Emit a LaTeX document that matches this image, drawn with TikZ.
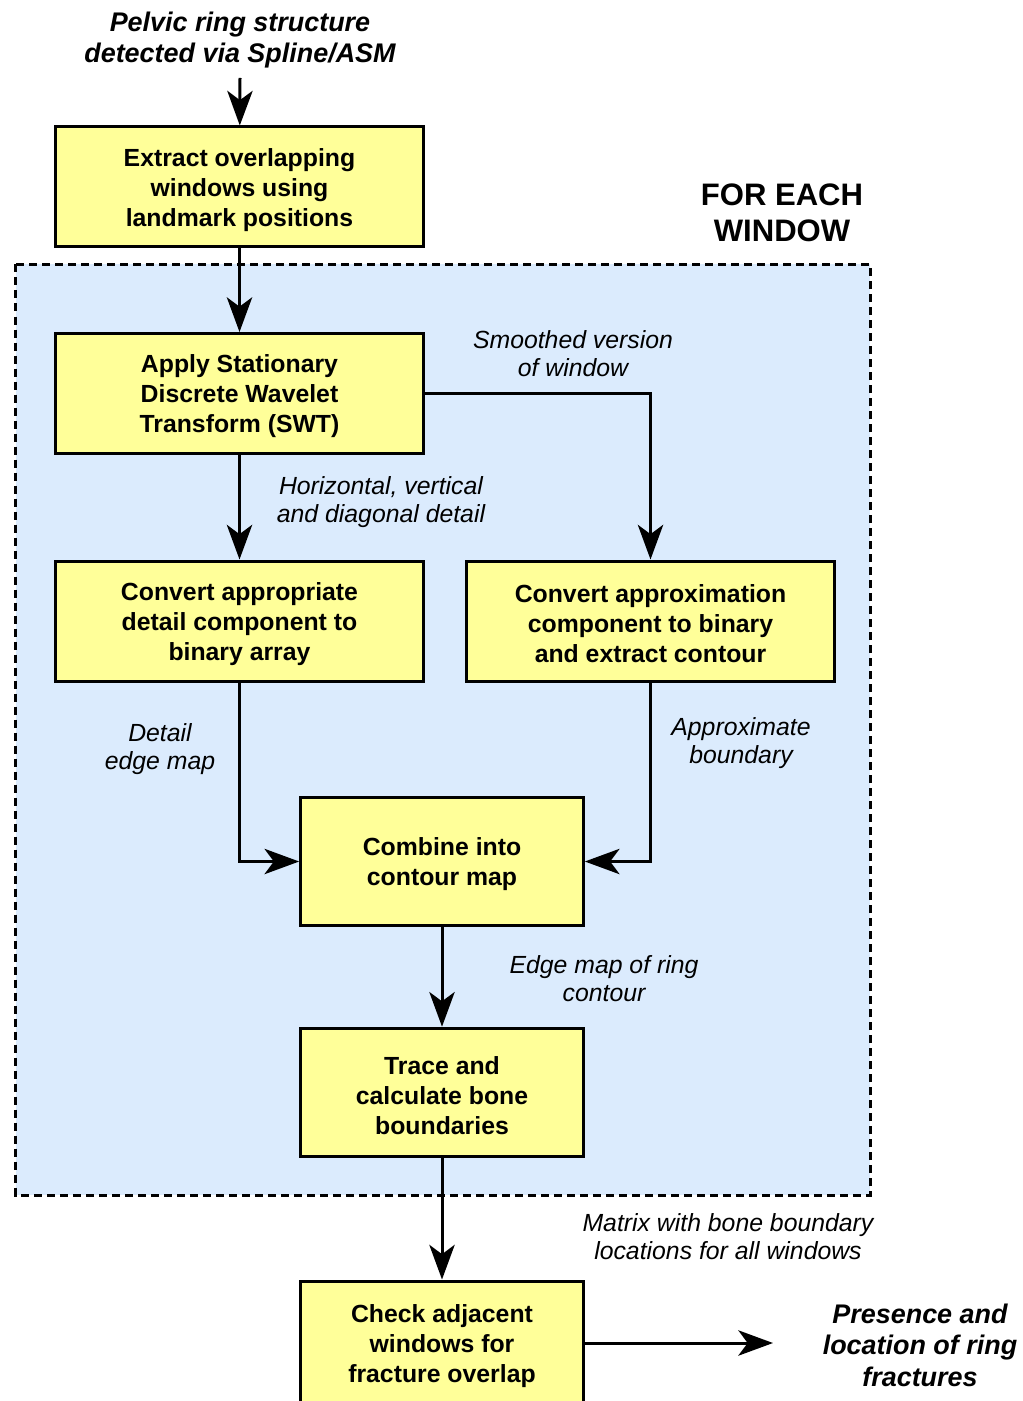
\documentclass[tikz,border=0pt]{standalone}
\usepackage{fontspec}
\setmainfont{Liberation Sans}
\usetikzlibrary{arrows.meta}
\definecolor{boxyellow}{HTML}{FFFF99}
\definecolor{loopblue}{HTML}{DBEBFD}
% extra room above the first line of a box, to sit the text a little lower
\newcommand\toppad{\rule{0pt}{18pt}}
\begin{document}
\begin{tikzpicture}[x=0.75pt,y=-0.75pt,
  stepbox/.style={draw=black,line width=2.25pt,fill=boxyellow,align=center,
    font=\bfseries\fontsize{18.6}{22.5}\selectfont,inner sep=0pt},
  widebox/.style={stepbox,minimum width=276pt,minimum height=90pt},
  smallbox/.style={stepbox,minimum width=212pt,minimum height=96.5pt},
  flow/.style={line width=2.25pt,-{Stealth[length=26pt,width=19pt,inset=7pt]}},
  lbl/.style={align=center,font=\itshape\fontsize{18.6}{21}\selectfont,inner sep=0pt},
  io/.style={align=center,font=\bfseries\itshape\fontsize{20.2}{23.6}\selectfont,inner sep=0pt}]
\useasboundingbox (0,0) rectangle (1022,1401);

% per-window loop region
\draw[line width=2.25pt,dash pattern=on 6pt off 3.75pt,fill=loopblue]
  (15.5,264.5) rectangle (870,1195);
\node[font=\bfseries\fontsize{23.3}{27}\selectfont,align=center,inner sep=0pt]
  (loop) at (782,213) {FOR EACH\\WINDOW};

% input and output
\node[io] (in) at (240,40) {Pelvic ring structure\\detected via Spline/ASM};
\coordinate (inEnd) at (240,78);
\node[io] (out) at (920,1345) {Presence and\\location of ring\\fractures};
\coordinate (outEnd) at (773,1343);

% processing steps
\node[widebox] (b1) at (239.5,187) {\toppad Extract overlapping\\windows using\\landmark positions};
\node[widebox] (b2) at (239.5,393.5) {\toppad Apply Stationary\\Discrete Wavelet\\Transform (SWT)};
\node[widebox] (b3) at (239.5,621) {\toppad Convert appropriate\\detail component to\\binary array};
\node[widebox] (b4) at (650.5,621) {\toppad Convert approximation\\component to binary\\and extract contour};
\node[smallbox] (b5) at (442,861.5) {\toppad Combine into\\contour map};
\node[smallbox] (b6) at (442,1092.5) {\toppad Trace and\\calculate bone\\boundaries};
\node[smallbox,minimum height=93pt] (b7) at (442,1343) {\toppad Check adjacent\\windows for\\fracture overlap};

% connector labels
\node[lbl] (l1) at (573,354) {Smoothed version\\of window};
\node[lbl] (l2) at (381,502) {Horizontal, vertical\\and diagonal detail};
\node[lbl] (l3) at (160,749) {Detail\\edge map};
\node[lbl] (l4) at (741,743) {Approximate\\boundary};
\node[lbl] (l5) at (604,979) {Edge map of ring\\contour};
\node[lbl] (l6) at (728,1237) {Matrix with bone boundary\\locations for all windows};

% connectors
\draw[flow] (inEnd) -- (b1);
\draw[flow] (b1) -- (b2);
\draw[flow] (b2) -- (b3);
\draw[flow] (b2.east) -| (b4.north);
\draw[flow] (b3.south) |- (b5.west);
\draw[flow] (b4.south) |- (b5.east);
\draw[flow] (b5) -- (b6);
\draw[flow] (b6) -- (b7);
\draw[flow] (b7.east) -- (outEnd);
\end{tikzpicture}
\end{document}
